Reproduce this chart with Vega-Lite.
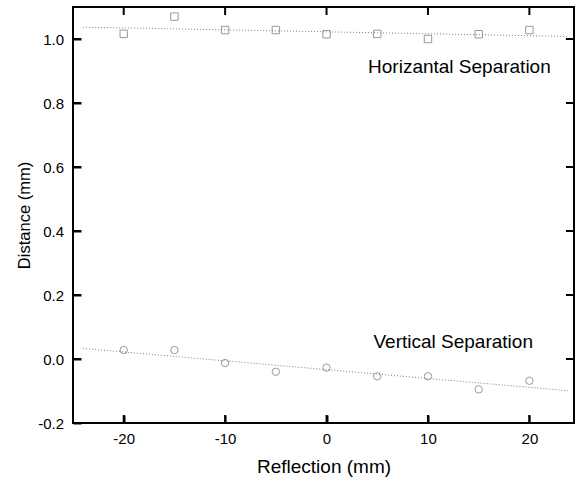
{
  "$schema": "https://vega.github.io/schema/vega-lite/v6.json",
  "width": 501,
  "height": 416,
  "autosize": {"type": "none"},
  "padding": {"left": 73, "top": 7, "right": 1, "bottom": 59},
  "background": "white",
  "config": {
    "font": "Liberation Sans",
    "view": {"stroke": "black", "strokeWidth": 2},
    "axis": {
      "zindex": 1,
      "domain": false,
      "offset": -8,
      "ticks": true,
      "tickSize": 8,
      "tickColor": "#000000",
      "tickWidth": 2,
      "grid": false,
      "labelFont": "Liberation Sans",
      "titleFont": "Liberation Sans",
      "labelColor": "black",
      "titleColor": "black",
      "labelFontSize": 15,
      "titleFontSize": 19,
      "titleFontWeight": "normal",
      "labelExpr": "replace(datum.label, '\u2212', '-')"
    }
  },
  "datasets": {
    "horiz": [
      {"reflection": -20, "distance": 1.016},
      {"reflection": -15, "distance": 1.07},
      {"reflection": -10, "distance": 1.028},
      {"reflection": -5, "distance": 1.028},
      {"reflection": 0, "distance": 1.015},
      {"reflection": 5, "distance": 1.016},
      {"reflection": 10, "distance": 1.0},
      {"reflection": 15, "distance": 1.015},
      {"reflection": 20, "distance": 1.028}
    ],
    "vert": [
      {"reflection": -20, "distance": 0.028},
      {"reflection": -15, "distance": 0.028},
      {"reflection": -10, "distance": -0.0125},
      {"reflection": -5, "distance": -0.04},
      {"reflection": 0, "distance": -0.027},
      {"reflection": 5, "distance": -0.054},
      {"reflection": 10, "distance": -0.054},
      {"reflection": 15, "distance": -0.095},
      {"reflection": 20, "distance": -0.068}
    ],
    "fits": [
      {"series": "h", "reflection": -24, "distance": 1.037},
      {"series": "h", "reflection": 23.8, "distance": 1.008},
      {"series": "v", "reflection": -24, "distance": 0.033},
      {"series": "v", "reflection": 23.8, "distance": -0.099}
    ],
    "labels": [
      {"reflection": 13.1, "distance": 0.8945, "label": "Horizantal Separation"},
      {"reflection": 12.49, "distance": 0.0344, "label": "Vertical Separation"}
    ],
    "xticks": [{"value": -20}, {"value": -10}, {"value": 0}, {"value": 10}, {"value": 20}],
    "yticks": [{"value": -0.2}, {"value": 0}, {"value": 0.2}, {"value": 0.4}, {"value": 0.6}, {"value": 0.8}, {"value": 1.0}]
  },
  "resolve": {"axis": {"x": "independent", "y": "independent"}},
  "layer": [
    {
      "data": {"name": "fits"},
      "mark": {"type": "line", "color": "#808080", "strokeWidth": 1, "strokeDash": [1, 2]},
      "encoding": {
        "x": {"field": "reflection", "type": "quantitative", "scale": {"domain": [-25, 24.4], "nice": false, "zero": false}, "axis": null},
        "y": {"field": "distance", "type": "quantitative", "scale": {"domain": [-0.2, 1.1], "nice": false, "zero": false}, "axis": null},
        "detail": {"field": "series"}
      }
    },
    {
      "data": {"name": "xticks"},
      "mark": {"type": "rule", "color": "black", "strokeWidth": 2},
      "encoding": {
        "x": {"field": "value", "type": "quantitative", "axis": null},
        "y": {"datum": -0.2, "type": "quantitative", "axis": null},
        "y2": {"datum": -0.175}
      }
    },
    {
      "data": {"name": "xticks"},
      "mark": {"type": "rule", "color": "black", "strokeWidth": 2},
      "encoding": {
        "x": {"field": "value", "type": "quantitative", "axis": null},
        "y": {"datum": 1.1, "type": "quantitative", "axis": null},
        "y2": {"datum": 1.075}
      }
    },
    {
      "data": {"name": "yticks"},
      "mark": {"type": "rule", "color": "black", "strokeWidth": 2},
      "encoding": {
        "y": {"field": "value", "type": "quantitative", "axis": null},
        "x": {"datum": -25, "type": "quantitative", "axis": null},
        "x2": {"datum": -24.2}
      }
    },
    {
      "data": {"name": "yticks"},
      "mark": {"type": "rule", "color": "black", "strokeWidth": 2},
      "encoding": {
        "y": {"field": "value", "type": "quantitative", "axis": null},
        "x": {"datum": 24.4, "type": "quantitative", "axis": null},
        "x2": {"datum": 23.6}
      }
    },
    {
      "data": {"name": "horiz"},
      "mark": {"type": "point", "shape": "square", "filled": false, "color": "#707070", "size": 55, "strokeWidth": 1},
      "encoding": {
        "x": {"field": "reflection", "type": "quantitative", "scale": {"domain": [-25, 24.4], "nice": false, "zero": false},
          "axis": {"orient": "bottom", "title": "Reflection (mm)", "values": [-20, -10, 0, 10, 20], "labelPadding": 8, "titlePadding": 11}},
        "y": {"field": "distance", "type": "quantitative", "scale": {"domain": [-0.2, 1.1], "nice": false, "zero": false},
          "axis": {"orient": "left", "title": "Distance (mm)", "titleFontSize": 16.5, "values": [-0.2, 0, 0.2, 0.4, 0.6, 0.8, 1.0], "format": ".1f", "labelPadding": 9.5, "titlePadding": 5}}
      }
    },
    {
      "data": {"name": "vert"},
      "mark": {"type": "point", "shape": "circle", "filled": false, "color": "#707070", "size": 55, "strokeWidth": 1},
      "encoding": {
        "x": {"field": "reflection", "type": "quantitative", "scale": {"domain": [-25, 24.4], "nice": false, "zero": false}, "axis": null},
        "y": {"field": "distance", "type": "quantitative", "scale": {"domain": [-0.2, 1.1], "nice": false, "zero": false}, "axis": null}
      }
    },
    {
      "data": {"name": "labels"},
      "mark": {"type": "text", "fontSize": 19, "font": "Liberation Sans", "color": "black", "align": "center", "baseline": "alphabetic"},
      "encoding": {
        "x": {"field": "reflection", "type": "quantitative", "axis": null},
        "y": {"field": "distance", "type": "quantitative", "axis": null},
        "text": {"field": "label"}
      }
    }
  ]
}
